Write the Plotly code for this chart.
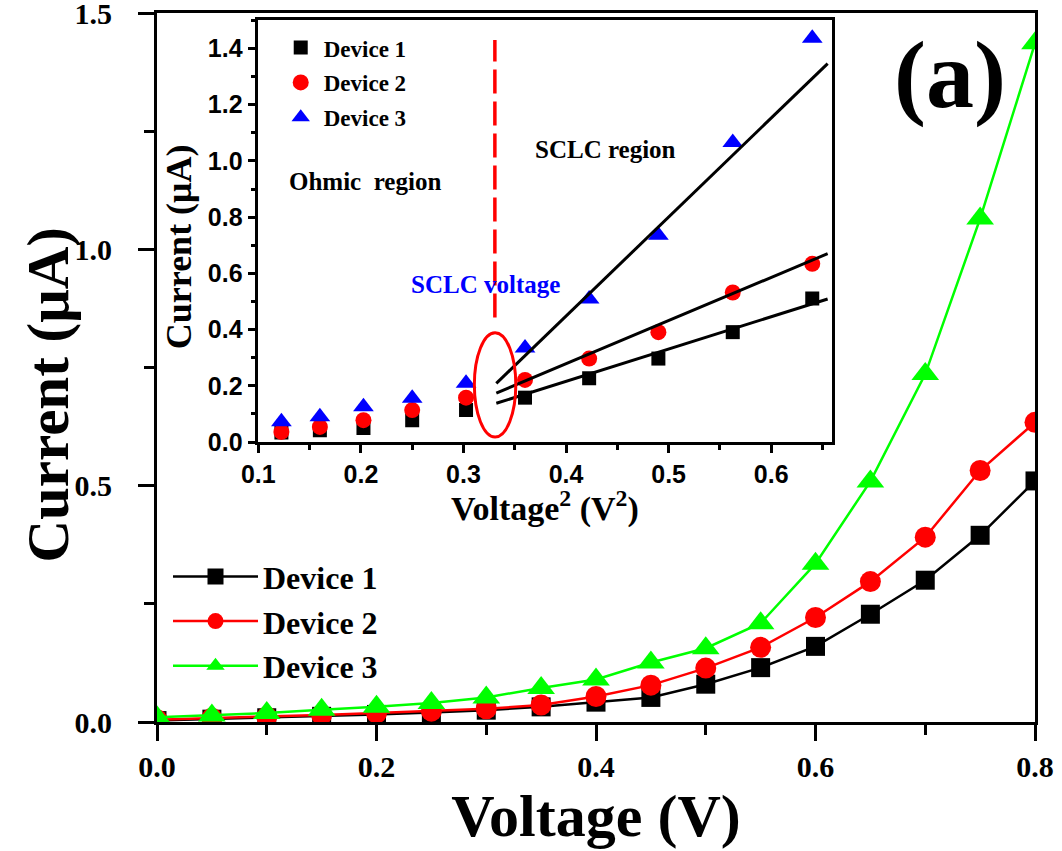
import plotly.graph_objects as go

# ---------------- data ----------------
voltage = [0.00, 0.05, 0.10, 0.15, 0.20, 0.25, 0.30, 0.35, 0.40,
           0.45, 0.50, 0.55, 0.60, 0.65, 0.70, 0.75, 0.80]
device1 = [0.003, 0.006, 0.009, 0.012, 0.016, 0.020, 0.025, 0.032, 0.042,
           0.052, 0.080, 0.115, 0.160, 0.228, 0.300, 0.395, 0.510]
device2 = [0.005, 0.008, 0.011, 0.015, 0.019, 0.023, 0.028, 0.036, 0.054,
           0.078, 0.114, 0.158, 0.221, 0.297, 0.391, 0.532, 0.634]
device3 = [0.010, 0.014, 0.019, 0.026, 0.032, 0.040, 0.052, 0.072, 0.090,
           0.126, 0.156, 0.209, 0.335, 0.509, 0.736, 1.065, 1.436]

inset_v2 = [0.1225, 0.16, 0.2025, 0.25, 0.3025, 0.36, 0.4225, 0.49, 0.5625, 0.64]
inset_dev1 = [0.034, 0.042, 0.050, 0.078, 0.114, 0.158, 0.227, 0.297, 0.391, 0.511]
inset_dev2 = [0.036, 0.054, 0.078, 0.114, 0.158, 0.221, 0.297, 0.391, 0.532, 0.634]
inset_dev3 = [0.072, 0.090, 0.126, 0.156, 0.209, 0.335, 0.509, 0.736, 1.065, 1.436]

fit_v2 = [0.332, 0.655]
fit_dev1 = [0.138, 0.509]
fit_dev2 = [0.174, 0.670]
fit_dev3 = [0.209, 1.346]

sclc_v2 = 0.3306
sclc_dash_range = [0.443, 1.43]
ellipse_x = [0.3106, 0.351]
ellipse_y = [0.018, 0.389]

names = ["Device 1", "Device 2", "Device 3"]

# ---------------- styles ----------------
SERIF = "Liberation Serif"
SANS = "Liberation Sans"
BLACK, RED, GREEN, BLUE = "#000000", "#FF0000", "#00FF00", "#0000FF"

fig = go.Figure()

main_series = [(device1, BLACK, "square", 19),
               (device2, RED, "circle", 21),
               (device3, GREEN, "triangle-up", 24)]
for (ys, col, sym, sz), nm in zip(main_series, names):
    fig.add_trace(go.Scatter(
        x=voltage, y=ys, mode="lines+markers", name=nm,
        line=dict(color=col, width=2.5),
        marker=dict(color=col, symbol=sym, size=sz, line=dict(width=0)),
        xaxis="x", yaxis="y", legend="legend", legendgroup=nm + "m"))

inset_series = [(inset_dev1, BLACK, "square", 14),
                (inset_dev2, RED, "circle", 16),
                (inset_dev3, BLUE, "triangle-up", 18)]
for (ys, col, sym, sz), nm in zip(inset_series, names):
    fig.add_trace(go.Scatter(
        x=inset_v2, y=ys, mode="markers", name=nm,
        marker=dict(color=col, symbol=sym, size=sz, line=dict(width=0)),
        xaxis="x2", yaxis="y2", legend="legend2", legendgroup=nm + "i"))

for fy in (fit_dev1, fit_dev2, fit_dev3):
    fig.add_trace(go.Scatter(
        x=fit_v2, y=fy, mode="lines", showlegend=False,
        line=dict(color=BLACK, width=3), xaxis="x2", yaxis="y2"))

axis_common = dict(showline=True, linecolor=BLACK, mirror=True, showgrid=False,
                   zeroline=False, ticks="outside", tickcolor=BLACK,
                   ticklabeloverflow="allow", automargin=False)

fig.update_layout(
    width=1062, height=851,
    margin=dict(l=157, r=27, t=13, b=129, autoexpand=False),
    paper_bgcolor="white", plot_bgcolor="white",
    showlegend=True,
    xaxis=dict(**axis_common, domain=[0, 1], range=[0, 0.8], tick0=0, dtick=0.2,
               tickformat=".1f", linewidth=3, ticklen=16, tickwidth=3,
               minor=dict(dtick=0.1, ticks="outside", ticklen=10, tickwidth=3, tickcolor=BLACK),
               tickfont=dict(family=SERIF, size=30, color=BLACK, weight="bold"),
               title=dict(text="Voltage (V)", standoff=8,
                          font=dict(family=SERIF, size=60, color=BLACK, weight="bold"))),
    yaxis=dict(**axis_common, domain=[0, 1], range=[0, 1.5], tick0=0, dtick=0.5,
               tickformat=".1f", linewidth=3, ticklen=16, tickwidth=3,
               ticklabelstandoff=20,
               minor=dict(dtick=0.25, ticks="outside", ticklen=10, tickwidth=3, tickcolor=BLACK),
               tickfont=dict(family=SERIF, size=30, color=BLACK, weight="bold")),
    xaxis2=dict(**axis_common, anchor="y2", domain=[0.1154, 0.7685], range=[0.1, 0.659],
                tick0=0.1, dtick=0.1, tickformat=".1f", linewidth=2.5, ticklen=8, tickwidth=2.5,
                minor=dict(dtick=0.05, ticks="outside", ticklen=5, tickwidth=2.5, tickcolor=BLACK),
                tickfont=dict(family=SANS, size=25, color=BLACK, weight="bold")),
    yaxis2=dict(**axis_common, anchor="x2", domain=[0.3948, 0.9897], range=[0, 1.5],
                tick0=0, dtick=0.2, tickformat=".1f", linewidth=2.5, ticklen=8, tickwidth=2.5,
                minor=dict(dtick=0.1, ticks="outside", ticklen=5, tickwidth=2.5, tickcolor=BLACK),
                tickfont=dict(family=SANS, size=25, color=BLACK, weight="bold")),
    legend=dict(x=(168 - 157) / 878, y=0.2437, xanchor="left", yanchor="top",
                bgcolor="rgba(0,0,0,0)", itemwidth=85, tracegroupgap=0,
                font=dict(family=SERIF, size=32, color=BLACK, weight="bold")),
    legend2=dict(x=0.1375, y=0.9815, xanchor="left", yanchor="top",
                 bgcolor="rgba(0,0,0,0)", tracegroupgap=2, itemwidth=36,
                 font=dict(family=SERIF, size=23, color=BLACK, weight="bold")),
)

# main y-axis title
fig.add_annotation(text="Current (\u03bcA)", xref="paper", yref="paper",
                   x=-0.1240, y=0.4606, xanchor="center", yanchor="middle",
                   textangle=-90, showarrow=False,
                   font=dict(family=SERIF, size=59, color=BLACK, weight="bold"))
# inset axis titles
fig.add_annotation(text="Current (\u03bcA)", xref="paper", yref="paper",
                   x=0.0245, y=0.6704, xanchor="center", yanchor="middle",
                   textangle=-90, showarrow=False,
                   font=dict(family=SERIF, size=36, color=BLACK, weight="bold"))
fig.add_annotation(text="Voltage<sup>2</sup> (V<sup>2</sup>)", xref="paper", yref="paper",
                   x=0.4419, y=0.3043, xanchor="center", yanchor="middle",
                   showarrow=False,
                   font=dict(family=SERIF, size=34, color=BLACK, weight="bold"))
# panel label
fig.add_annotation(text="(a)", xref="paper", yref="paper", x=0.9035, y=0.9126,
                   xanchor="center", yanchor="middle", showarrow=False,
                   font=dict(family=SERIF, size=96, color=BLACK, weight="bold"))
# inset region labels
inset_text = [("SCLC region", 0.438, 1.041, BLACK),
              ("Ohmic\u00a0\u00a0region", 0.204, 0.927, BLACK),
              ("SCLC voltage", 0.321, 0.562, BLUE)]
for txt, tx, ty, col in inset_text:
    fig.add_annotation(text=txt, xref="x2", yref="y2", x=tx, y=ty,
                       xanchor="center", yanchor="middle", showarrow=False,
                       font=dict(family=SERIF, size=25, color=col, weight="bold"))

# SCLC voltage marker: dashed line and ellipse
fig.add_shape(type="line", xref="x2", yref="y2", x0=sclc_v2, x1=sclc_v2,
              y0=sclc_dash_range[0], y1=sclc_dash_range[1],
              line=dict(color=RED, width=3.5, dash="24px,8px"))
fig.add_shape(type="circle", xref="x2", yref="y2",
              x0=ellipse_x[0], x1=ellipse_x[1], y0=ellipse_y[0], y1=ellipse_y[1],
              line=dict(color=RED, width=3))

fig.write_html("out.html")
